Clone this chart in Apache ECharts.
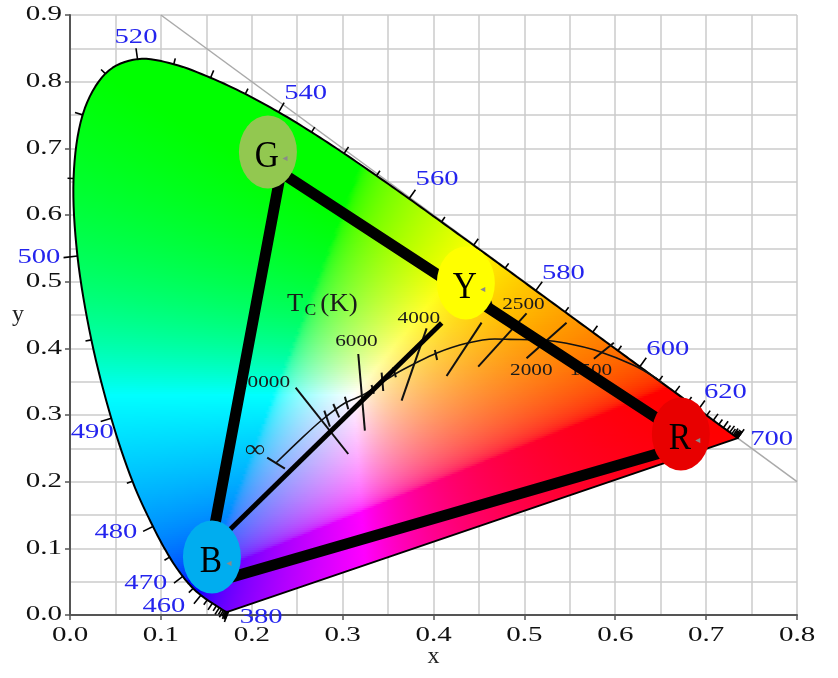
<!DOCTYPE html>
<html><head><meta charset="utf-8">
<script src="https://cdn.jsdelivr.net/npm/echarts/dist/echarts.min.js"></script>
<style>html,body{margin:0;padding:0;background:#fff}#c{width:838px;height:678px}</style>
</head><body><div id="c"></div>
<script>
// ---------- DATA ----------
const xTicks = [0.0,0.1,0.2,0.3,0.4,0.5,0.6,0.7,0.8];
const xTickLabels = ['0.0','0.1','0.2','0.3','0.4','0.5','0.6','0.7','0.8'];
const yTicks = [0.0,0.1,0.2,0.3,0.4,0.5,0.6,0.7,0.8,0.9];
const yTickLabels = ['0.0','0.1','0.2','0.3','0.4','0.5','0.6','0.7','0.8','0.9'];

const wavelengths = [380,385,390,395,400,405,410,415,420,425,430,435,440,445,450,455,460,465,470,475,480,485,490,495,500,505,510,515,520,525,530,535,540,545,550,555,560,565,570,575,580,585,590,595,600,605,610,615,620,625,630,635,640,645,650,655,660,665,670,675,680,685,690,695,700];
const locusX = [0.1741,0.1740,0.1738,0.1736,0.1733,0.1730,0.1726,0.1721,0.1714,0.1703,0.1689,0.1669,0.1644,0.1611,0.1566,0.1510,0.1440,0.1355,0.1241,0.1096,0.0913,0.0687,0.0454,0.0235,0.0082,0.0039,0.0139,0.0389,0.0743,0.1142,0.1547,0.1929,0.2296,0.2658,0.3016,0.3373,0.3731,0.4087,0.4441,0.4788,0.5125,0.5448,0.5752,0.6029,0.6270,0.6482,0.6658,0.6801,0.6915,0.7006,0.7079,0.7140,0.7190,0.7230,0.7260,0.7283,0.7300,0.7311,0.7320,0.7327,0.7334,0.7340,0.7344,0.7346,0.7347];
const locusY = [0.0050,0.0050,0.0049,0.0049,0.0048,0.0048,0.0048,0.0048,0.0051,0.0058,0.0069,0.0086,0.0109,0.0138,0.0177,0.0227,0.0297,0.0399,0.0578,0.0868,0.1327,0.2007,0.2950,0.4127,0.5384,0.6548,0.7502,0.8120,0.8338,0.8262,0.8059,0.7816,0.7543,0.7243,0.6923,0.6589,0.6245,0.5896,0.5547,0.5202,0.4866,0.4544,0.4242,0.3965,0.3725,0.3514,0.3340,0.3197,0.3083,0.2993,0.2920,0.2859,0.2809,0.2770,0.2740,0.2717,0.2700,0.2689,0.2680,0.2673,0.2666,0.2660,0.2656,0.2654,0.2653];
const labelledWavelengths = [380,460,470,480,490,500,520,540,560,580,600,620,700];

const diagX = [0.1, 0.8];
const diagY = [0.9, 0.2];

const planckX = [0.2266,0.2525,0.2772,0.3025,0.3223,0.3443,0.3597,0.3784,0.4037,0.4364,0.4675,0.4840,0.5170,0.5464,0.5830,0.6197,0.6454,0.6510];
const planckY = [0.2280,0.2620,0.2925,0.3180,0.3300,0.3495,0.3630,0.3765,0.3930,0.4075,0.4140,0.4135,0.4125,0.4075,0.3950,0.3750,0.3550,0.3480];

const isoTemps = [10000,6000,4000,3000,2500,2000,1500];
const isoX1 = [0.2483,0.3172,0.3924,0.4529,0.5024,0.5464,0.5985];
const isoY1 = [0.3410,0.3915,0.4300,0.4385,0.4525,0.4385,0.4085];
const isoX2 = [0.3062,0.3245,0.3649,0.4144,0.4492,0.5024,0.5765];
const isoY2 = [0.2415,0.2765,0.3215,0.3585,0.3725,0.3850,0.3845];

const minorX1 = [0.2170,0.2798,0.2897,0.3025,0.3319,0.3429,0.3557,0.4015];
const minorY1 = [0.2360,0.3065,0.3165,0.3275,0.3450,0.3635,0.3715,0.3975];
const minorX2 = [0.2365,0.2860,0.2963,0.3062,0.3344,0.3447,0.3586,0.4040];
const minorY2 = [0.2195,0.2825,0.2965,0.3085,0.3320,0.3360,0.3565,0.3825];

const planckLabels = ['∞','10000','6000','4000','3000','2500','2000','1500'];
const planckLabelX = [0.2035,0.2129,0.3152,0.3839,0.4422,0.4989,0.5077,0.5732];
const planckLabelY = [0.2475,0.3488,0.4103,0.4440,0.4635,0.4650,0.3660,0.3660];
const tcLabelX = [0.2475];
const tcLabelY = [0.4657];

const gamutNames = ['G','Y','R','B'];
const gamutVX = [0.232,0.431,0.6875,0.147];
const gamutVY = [0.664,0.487,0.258,0.0445];
const ellipseX = [0.2178,0.4356,0.6722,0.1562];
const ellipseY = [0.6945,0.4980,0.2715,0.0870];

const blueLineX = [0.155,0.409];
const blueLineY = [0.100,0.438];

const whitePoint = [0.31,0.32];

// ---------- STYLE ----------
const serif = '"Liberation Serif","Times New Roman",serif';
const labelOffsets = {380:[33,6],460:[-37,11],470:[-37,6.5],480:[-37,5.5],490:[-19,14],500:[-38.5,1],520:[-1.5,-21.5],540:[27,-19],560:[28,-19],580:[27.6,-17],600:[28,-17],620:[27,-17],700:[34,1]};
const ellipseColors = ['#92c850','#ffff00','#e80000','#00adef'];

// ---------- HELPERS ----------
function xyColor(x, y) {
  const X = x / y, Y = 1, Z = (1 - x - y) / y;
  let r = 3.2406*X - 1.5372*Y - 0.4986*Z;
  let g = -0.9689*X + 1.8758*Y + 0.0415*Z;
  let b = 0.0557*X - 0.2040*Y + 1.0570*Z;
  r = Math.max(r,0); g = Math.max(g,0); b = Math.max(b,0);
  const m = Math.max(r,g,b) || 1;
  r /= m; g /= m; b /= m;
  const gm = c => c <= 0.0031308 ? 12.92*c : 1.055*Math.pow(c,1/2.4)-0.055;
  const R = gm(r), G = Math.pow(gm(g), 0.85), B = Math.pow(b, 1.05);
  const to = c => Math.round(Math.min(1,Math.max(0,c))*255);
  return 'rgb(' + to(R) + ',' + to(G) + ',' + to(B) + ')';
}
function cross(a,b,p){ return (b[0]-a[0])*(p[1]-a[1]) - (b[1]-a[1])*(p[0]-a[0]); }
function convexHull(points) {
  const p = points.map(q=>[q[0],q[1]]).sort((a,b)=>a[0]-b[0]||a[1]-b[1]);
  const lower=[]; for(const q of p){while(lower.length>=2&&cross(lower[lower.length-2],lower[lower.length-1],q)<=0)lower.pop();lower.push(q);}
  const upper=[]; for(let i=p.length-1;i>=0;i--){const q=p[i];while(upper.length>=2&&cross(upper[upper.length-2],upper[upper.length-1],q)<=0)upper.pop();upper.push(q);}
  upper.pop(); lower.pop(); return lower.concat(upper);
}
function clipPoly(subject, clip) {
  let out = subject;
  for (let i=0;i<clip.length;i++) {
    const a = clip[i], b = clip[(i+1)%clip.length];
    const inp = out; out = [];
    for (let j=0;j<inp.length;j++) {
      const cur = inp[j], prev = inp[(j+inp.length-1)%inp.length];
      const cc = cross(a,b,cur), cp = cross(a,b,prev);
      const inter = () => { const t = cp/(cp-cc); return [prev[0]+t*(cur[0]-prev[0]), prev[1]+t*(cur[1]-prev[1])]; };
      if (cc >= 0) { if (cp < 0) out.push(inter()); out.push(cur); }
      else if (cp >= 0) out.push(inter());
    }
    if (!out.length) break;
  }
  return out;
}
// smooth rendering of the measured locus (Catmull-Rom through the data points, pixel space)
function smoothPath(pts) {
  const out = [], n = pts.length, S = 8;
  for (let i=0;i<n-1;i++) {
    const p0 = pts[Math.max(i-1,0)], p1 = pts[i], p2 = pts[i+1], p3 = pts[Math.min(i+2,n-1)];
    for (let s=0;s<S;s++) {
      const t = s/S, t2 = t*t, t3 = t2*t;
      out.push([0,1].map(d => 0.5*(2*p1[d] + (-p0[d]+p2[d])*t + (2*p0[d]-5*p1[d]+4*p2[d]-p3[d])*t2 + (-p0[d]+3*p1[d]-3*p2[d]+p3[d])*t3)));
    }
  }
  out.push(pts[n-1].slice());
  return out;
}

function fillRender(params, api) {
  const p00 = api.coord([0,0]), p11 = api.coord([1,1]);
  const sx = p11[0]-p00[0], sy = p11[1]-p00[1];
  const toData = (px,py) => [(px-p00[0])/sx, (py-p00[1])/sy];
  const pts = locusX.map((x,i)=>api.coord([x, locusY[i]]));
  const curve = smoothPath(pts);
  const hull = convexHull(curve);
  let minY=Infinity,maxY=-Infinity,minX=Infinity,maxX=-Infinity;
  hull.forEach(p=>{minX=Math.min(minX,p[0]);maxX=Math.max(maxX,p[0]);minY=Math.min(minY,p[1]);maxY=Math.max(maxY,p[1]);});
  const step = 2, children = [];
  for (let y0 = minY; y0 < maxY; y0 += step) {
    const ya = y0 - 0.7, yb = y0 + step + 0.7;
    const rect = [[minX-2,ya],[maxX+2,ya],[maxX+2,yb],[minX-2,yb]];
    const poly = clipPoly(rect, hull);
    if (poly.length < 3) continue;
    let x0=Infinity,x1=-Infinity; poly.forEach(p=>{x0=Math.min(x0,p[0]);x1=Math.max(x1,p[0]);});
    if (x1 - x0 < 0.3) continue;
    const yMid = Math.min(Math.max(y0+step/2, minY+0.5), maxY-0.5);
    const n = Math.max(1, Math.ceil((x1-x0)/4));
    const stops = [];
    for (let k=0;k<=n;k++){ const px = x0+(x1-x0)*k/n; const d = toData(px, yMid); stops.push({offset:k/n, color: xyColor(d[0], Math.max(d[1],0.0045))}); }
    children.push({type:'polygon', silent:true, shape:{points:poly}, style:{fill: new echarts.graphic.LinearGradient(x0,0,x1,0,stops,true), stroke:null}});
  }
  children.push({type:'polygon', silent:true, shape:{points:curve}, style:{fill:null, stroke:'#000', lineWidth:2, lineJoin:'round'}});
  return {type:'group', children};
}

function tickRender(params, api) {
  const i = params.dataIndex;
  const pts = locusX.map((x,j)=>api.coord([x, locusY[j]]));
  const n = pts.length, p = pts[i];
  let k = 1, a, b;
  while (true) {
    a = Math.max(0,i-k); b = Math.min(n-1,i+k);
    const d = Math.hypot(pts[b][0]-pts[a][0], pts[b][1]-pts[a][1]);
    if (d > 6 || k > 14) break; k++;
  }
  const tx = pts[b][0]-pts[a][0], ty = pts[b][1]-pts[a][1];
  const len = Math.hypot(tx,ty) || 1;
  let nx = ty/len, ny = -tx/len;
  const w = api.coord(whitePoint);
  if (nx*(p[0]-w[0]) + ny*(p[1]-w[1]) < 0) { nx = -nx; ny = -ny; }
  const wl = wavelengths[i];
  const labelled = labelledWavelengths.indexOf(wl) >= 0;
  const L = wl === 500 ? 14 : (labelled ? 11 : (wl % 10 === 0 ? 8 : 6));
  const children = [{type:'line', silent:true, shape:{x1:p[0],y1:p[1],x2:p[0]+nx*L,y2:p[1]+ny*L}, style:{stroke:'#000', lineWidth:1.6}}];
  if (labelled) {
    const o = labelOffsets[wl];
    children.push({type:'text', silent:true, x:p[0]+o[0], y:p[1]+o[1], scaleX:1.3,
      style:{text:String(wl), font:'22px '+serif, fill:'#2424ee', align:'center', verticalAlign:'middle'}});
  }
  return {type:'group', children};
}

function segRender(width) {
  return function(params, api) {
    const p1 = api.coord([api.value(0), api.value(1)]);
    const p2 = api.coord([api.value(2), api.value(3)]);
    return {type:'line', silent:true, shape:{x1:p1[0],y1:p1[1],x2:p2[0],y2:p2[1]}, style:{stroke:'#111', lineWidth:width}};
  };
}

const option = {
  animation: false,
  backgroundColor: '#ffffff',
  grid: {left:70, right:41, top:15, bottom:63, containLabel:false, outerBoundsMode:'none'},
  xAxis: {
    type:'value', min:0, max:0.8, interval:0.1,
    name:'x', nameLocation:'middle', nameGap:30,
    nameTextStyle:{fontFamily:serif, fontSize:24, color:'#222'},
    axisLine:{show:true, onZero:false, lineStyle:{color:'#555', width:2}},
    axisTick:{show:true, length:5, inside:false, lineStyle:{color:'#555', width:1.5}},
    axisLabel:{show:false},
    splitLine:{show:true, lineStyle:{color:'#cbcbcb', width:1.5}},
    minorTick:{show:false, splitNumber:2},
    minorSplitLine:{show:true, lineStyle:{color:'#cbcbcb', width:1.5}}
  },
  yAxis: {
    type:'value', min:0, max:0.9, interval:0.1,
    name:'y', nameLocation:'middle', nameGap:46, nameRotate:0,
    nameTextStyle:{fontFamily:serif, fontSize:24, color:'#222'},
    axisLine:{show:true, onZero:false, lineStyle:{color:'#555', width:2}},
    axisTick:{show:true, length:5, inside:false, lineStyle:{color:'#555', width:1.5}},
    axisLabel:{show:false},
    splitLine:{show:true, lineStyle:{color:'#cbcbcb', width:1.5}},
    minorTick:{show:false, splitNumber:2},
    minorSplitLine:{show:true, lineStyle:{color:'#cbcbcb', width:1.5}}
  },
  series: [
    {type:'line', z:1, silent:true, symbol:'none', data: diagX.map((x,i)=>[x, diagY[i]]), lineStyle:{color:'#aaaaaa', width:1.5}},
    {type:'custom', z:2, silent:true, data:[[0.3,0.3]], encode:{x:0,y:1}, renderItem: fillRender},
    {type:'custom', z:3, silent:true, data: locusX.map((x,i)=>[x, locusY[i]]), encode:{x:0,y:1}, renderItem: tickRender},
    {type:'line', z:4, silent:true, symbol:'none', smooth:0.3, data: planckX.map((x,i)=>[x, planckY[i]]), lineStyle:{color:'#111', width:1.6}},
    {type:'custom', z:4, silent:true, data: isoX1.map((x,i)=>[x, isoY1[i], isoX2[i], isoY2[i], isoTemps[i]]), encode:{x:0,y:1}, renderItem: segRender(2)},
    {type:'custom', z:4, silent:true, data: minorX1.map((x,i)=>[x, minorY1[i], minorX2[i], minorY2[i]]), encode:{x:0,y:1}, renderItem: segRender(2)},
    {type:'custom', z:4, silent:true, data: planckLabelX.map((x,i)=>[x, planckLabelY[i]]), encode:{x:0,y:1},
      renderItem: function(params, api){
        const p = api.coord([api.value(0), api.value(1)]);
        const t = planckLabels[params.dataIndex];
        const inf = t === '∞';
        return {type:'text', silent:true, x:p[0], y:p[1], scaleX: inf ? 1.15 : 1.25,
          style:{text:t, font: inf ? '25px '+serif : '17px '+serif, fill:'#1a1a1a', align:'center', verticalAlign:'middle'}};
      }},
    {type:'custom', z:4, silent:true, data: tcLabelX.map((x,i)=>[x, tcLabelY[i]]), encode:{x:0,y:1},
      renderItem: function(params, api){
        const p = api.coord([api.value(0), api.value(1)]);
        const st = (t, size) => ({text:t, font: size+'px '+serif, fill:'#1a1a1a', align:'center', verticalAlign:'middle'});
        return {type:'group', children:[
          {type:'text', silent:true, x:p[0], y:p[1], scaleX:1.05, style: st('T', 25)},
          {type:'text', silent:true, x:p[0]+15.5, y:p[1]+6, scaleX:1.1, style: st('C', 16)},
          {type:'text', silent:true, x:p[0]+44, y:p[1], scaleX:1.08, style: st('(K)', 25)}
        ]};
      }},
    {type:'line', z:5, silent:true, symbol:'none', data: blueLineX.map((x,i)=>[x, blueLineY[i]]), lineStyle:{color:'#000', width:5}},
    {type:'line', z:5, silent:true, symbol:'none', data: [0,1,2,3,0].map(i=>[gamutVX[i], gamutVY[i]]), lineStyle:{color:'#000', width:11, join:'round', cap:'butt'}},
    {type:'custom', z:6, silent:true, data: ellipseX.map((x,i)=>[x, ellipseY[i]]), encode:{x:0,y:1},
      renderItem: function(params, api){
        const i = params.dataIndex;
        const p = api.coord([api.value(0), api.value(1)]);
        return {type:'group', children:[
          {type:'circle', silent:true, x:p[0], y:p[1], scaleX:29/36.5, shape:{cx:0, cy:0, r:36.5}, style:{fill:ellipseColors[i]}},
          {type:'text', silent:true, x:p[0]-1, y:p[1]+5, scaleX:0.88, style:{text:gamutNames[i], font:'38px '+serif, fill:'#000', align:'center', verticalAlign:'middle'}},
          {type:'text', silent:true, x:p[0]+17, y:p[1]+6, style:{text:'◂', font:'10px "DejaVu Sans"', fill:'#8a8a8a', align:'center', verticalAlign:'middle'}}
        ]};
      }},
    {type:'custom', z:3, silent:true, data: xTicks.map(v=>[v,0]), encode:{x:0,y:1},
      renderItem: function(params, api){
        const p = api.coord([api.value(0), 0]);
        return {type:'text', silent:true, x:p[0], y:p[1]+21, scaleX:1.45, style:{text:xTickLabels[params.dataIndex], font:'20px '+serif, fill:'#111', align:'center', verticalAlign:'middle'}};
      }},
    {type:'custom', z:3, silent:true, data: yTicks.map(v=>[0,v]), encode:{x:0,y:1},
      renderItem: function(params, api){
        const p = api.coord([0, api.value(1)]);
        return {type:'text', silent:true, x:p[0]-8, y:p[1], scaleX:1.45, style:{text:yTickLabels[params.dataIndex], font:'20px '+serif, fill:'#111', align:'right', verticalAlign:'middle'}};
      }}
  ]
};
const chart = echarts.init(document.getElementById('c'));
chart.setOption(option);
</script></body></html>
